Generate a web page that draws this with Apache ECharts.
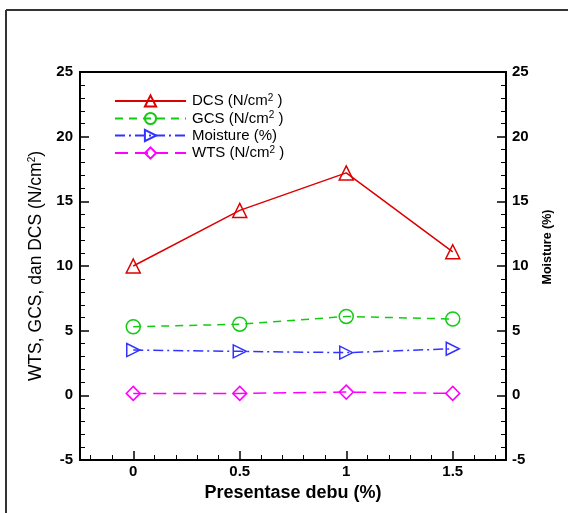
<!DOCTYPE html>
<html>
<head>
<meta charset="utf-8">
<script src="https://cdn.jsdelivr.net/npm/echarts@6/dist/echarts.min.js"></script>
<style>
html,body{margin:0;padding:0;background:#fff;}
#main{width:568px;height:513px;}
</style>
</head>
<body>
<div id="main"></div>
<script>
// data
var debu = [0, 0.5, 1, 1.5];
var dcs = [10.0, 14.3, 17.2, 11.1];
var gcs = [5.3, 5.5, 6.1, 5.9];
var moisture = [3.5, 3.4, 3.3, 3.6];
var wts = [0.15, 0.15, 0.25, 0.15];
var xMajor = [0, 0.5, 1, 1.5];
var xMinor = [-0.2, -0.1, 0.1, 0.2, 0.3, 0.4, 0.6, 0.7, 0.8, 0.9, 1.1, 1.2, 1.3, 1.4, 1.6, 1.7];

function pairs(ys){
	var r = [];
	for (var i = 0; i < debu.length; i++) r.push([debu[i], ys[i]]);
	return r;
}

var font = 'Arial, "Liberation Sans", sans-serif';
var sup = {sup: {fontSize: 10, verticalAlign: 'top', padding: [0, 0, 6, 0], fontFamily: font, color: '#000'}};

var myChart = echarts.init(document.getElementById('main'));

function mk(name, data, color, symbol, size, rotate, dash, yIdx){
	return {
		name: name,
		type: 'line',
		xAxisIndex: 0,
		yAxisIndex: yIdx,
		data: pairs(data),
		symbol: symbol,
		symbolSize: size,
		symbolRotate: rotate,
		showAllSymbol: true,
		color: color,
		itemStyle: {color: 'rgba(255,255,255,0)', borderColor: color, borderWidth: 1.5},
		lineStyle: {color: color, width: 1.5, type: dash},
		emphasis: {disabled: true},
		z: 3
	};
}

var option = {
	animation: false,
	backgroundColor: '#fff',
	grid: {left: 80, top: 72, width: 426, height: 388, show: true, borderColor: '#000', borderWidth: 2, backgroundColor: 'transparent'},
	legend: {
		left: 109, top: 88, orient: 'vertical',
		itemWidth: 71, itemHeight: 14, itemGap: 2,
		data: ['DCS', 'GCS', 'Moisture', 'WTS'],
		formatter: function(n){
			if (n === 'Moisture') return 'Moisture (%)';
			return n + ' (N/cm{sup|2} )';
		},
		textStyle: {fontSize: 15, fontFamily: font, color: '#000', padding: [0, 0, 0, 1], rich: sup}
	},
	graphic: [
		{type: 'line', shape: {x1: 6, y1: 10, x2: 568, y2: 10}, style: {stroke: '#333', lineWidth: 2}},
		{type: 'line', shape: {x1: 6, y1: 10, x2: 6, y2: 513}, style: {stroke: '#333', lineWidth: 2}}
	],
	xAxis: [
		{
			type: 'value', min: -0.25, max: 1.75,
			name: 'Presentase debu (%)', nameLocation: 'middle', nameGap: 13,
			nameTextStyle: {fontSize: 18, fontWeight: 'bold', fontFamily: font, color: '#000', verticalAlign: 'top'},
			axisLine: {show: true, onZero: false, lineStyle: {color: '#000', width: 2}},
			axisTick: {show: true, inside: true, length: 9, customValues: xMajor, lineStyle: {color: '#000', width: 1.5}},
			axisLabel: {customValues: xMajor, fontSize: 15, fontWeight: 'bold', fontFamily: font, color: '#000', margin: 4},
			splitLine: {show: false}
		},
		{
			type: 'value', min: -0.25, max: 1.75, position: 'bottom',
			axisLine: {show: false, onZero: false},
			axisTick: {show: true, inside: true, length: 5, customValues: xMinor, lineStyle: {color: '#000', width: 1}},
			axisLabel: {show: false},
			splitLine: {show: false}
		}
	],
	yAxis: [
		{
			type: 'value', min: -5, max: 25, interval: 5, position: 'left',
			name: 'WTS, GCS, dan DCS (N/cm{sup|2})', nameLocation: 'middle', nameGap: 31,
			nameTextStyle: {fontSize: 17.5, fontFamily: font, color: '#000', rich: sup},
			axisLine: {show: true, onZero: false, lineStyle: {color: '#000', width: 2}},
			axisTick: {show: true, inside: true, length: 9, lineStyle: {color: '#000', width: 1.5}},
			minorTick: {show: true, splitNumber: 5, length: 5, lineStyle: {color: '#000', width: 1}},
			axisLabel: {fontSize: 15, fontWeight: 'bold', fontFamily: font, color: '#000', margin: 7},
			splitLine: {show: false}
		},
		{
			type: 'value', min: -5, max: 25, interval: 5, position: 'right',
			name: 'Moisture (%)', nameLocation: 'middle', nameGap: 35,
			nameTextStyle: {fontSize: 12.5, fontWeight: 'bold', fontFamily: font, color: '#000', padding: [0, 0, 0, 38]},
			axisLine: {show: true, onZero: false, lineStyle: {color: '#000', width: 2}},
			axisTick: {show: true, inside: true, length: 9, lineStyle: {color: '#000', width: 1.5}},
			minorTick: {show: true, splitNumber: 5, length: 5, lineStyle: {color: '#000', width: 1}},
			axisLabel: {fontSize: 15, fontWeight: 'bold', fontFamily: font, color: '#000', margin: 6},
			splitLine: {show: false}
		}
	],
	series: [
		mk('DCS', dcs, '#dd0000', 'triangle', 14, 0, 'solid', 0),
		mk('GCS', gcs, '#11cc11', 'circle', 14, 0, [8, 6], 0),
		mk('Moisture', moisture, '#3333ff', 'triangle', 13, -90, [10, 4, 2, 4], 1),
		mk('WTS', wts, '#ff00ff', 'diamond', 14, 0, [13, 7], 0)
	]
};
myChart.setOption(option);
</script>
</body>
</html>
